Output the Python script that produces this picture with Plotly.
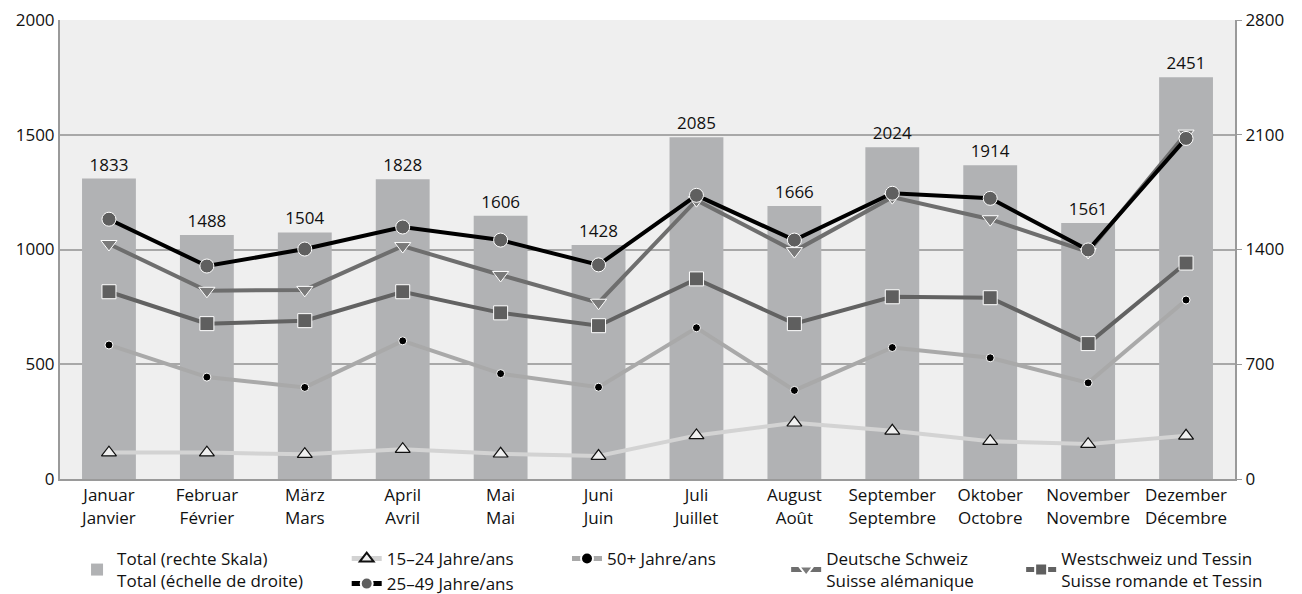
import plotly.graph_objects as go

# Data
months = ["Januar<br>Janvier", "Februar<br>Février", "März<br>Mars", "April<br>Avril",
          "Mai<br>Mai", "Juni<br>Juin", "Juli<br>Juillet", "August<br>Août",
          "September<br>Septembre", "Oktober<br>Octobre", "November<br>Novembre",
          "Dezember<br>Décembre"]
total = [1833, 1488, 1504, 1828, 1606, 1428, 2085, 1666, 2024, 1914, 1561, 2451]
age_15_24 = [115, 115, 108, 130, 110, 100, 190, 245, 210, 165, 152, 188]
age_25_49 = [1132, 928, 1002, 1098, 1041, 933, 1236, 1041, 1245, 1223, 998, 1484]
age_50 = [584, 444, 399, 602, 459, 400, 659, 386, 573, 528, 419, 780]
deutsch = [1024, 820, 824, 1015, 889, 768, 1215, 993, 1228, 1132, 989, 1505]
west = [816, 677, 690, 816, 724, 668, 872, 677, 794, 790, 590, 941]

left_ticks = [0, 500, 1000, 1500, 2000]
right_ticks = [0, 700, 1400, 2100, 2800]

FONT = "Open Sans"
FS = 17

fig = go.Figure()

# Bars on the primary axis (drawn first, behind the lines), shown on the right side
fig.add_trace(go.Bar(
    x=months, y=total,
    name="Total (rechte Skala)<br>Total (échelle de droite)",
    marker=dict(color="#b1b2b4", line=dict(width=0)),
    width=0.55,
    text=total, textposition="outside",
    textfont=dict(color="#111", size=FS),
    cliponaxis=False,
    legend="legend",
    yaxis="y",
))

# Lines on the overlaying axis (left scale)
fig.add_trace(go.Scatter(
    x=months, y=age_15_24, mode="lines+markers",
    name="15–24 Jahre/ans",
    line=dict(color="#d3d3d3", width=4),
    marker=dict(symbol="triangle-up", size=13, color="#efefef",
                line=dict(color="#111", width=1.2)),
    legend="legend2", yaxis="y2",
))
fig.add_trace(go.Scatter(
    x=months, y=age_50, mode="lines+markers",
    name="50+ Jahre/ans",
    line=dict(color="#a9a9a9", width=4),
    marker=dict(symbol="circle", size=8, color="#000",
                line=dict(color="#fff", width=1)),
    legend="legend3", yaxis="y2",
))
fig.add_trace(go.Scatter(
    x=months, y=west, mode="lines+markers",
    name="Westschweiz und Tessin<br>Suisse romande et Tessin",
    line=dict(color="#626262", width=4),
    marker=dict(symbol="square", size=14, color="#5f5f5f",
                line=dict(color="#fff", width=1)),
    legend="legend5", yaxis="y2",
))
fig.add_trace(go.Scatter(
    x=months, y=deutsch, mode="lines+markers",
    name="Deutsche Schweiz<br>Suisse alémanique",
    line=dict(color="#6e6e6e", width=4),
    marker=dict(symbol="triangle-down", size=14, color="#7a7a7a",
                line=dict(color="#fff", width=1)),
    legend="legend4", yaxis="y2",
))
fig.add_trace(go.Scatter(
    x=months, y=age_25_49, mode="lines+markers",
    name="25–49 Jahre/ans",
    line=dict(color="#000", width=4),
    marker=dict(symbol="circle", size=14, color="#5f5f5f",
                line=dict(color="#fff", width=1)),
    legend="legend2", yaxis="y2",
))

legend_common = dict(
    font=dict(family=FONT, size=FS, color="#111"),
    bgcolor="rgba(0,0,0,0)",
    orientation="v",
    yanchor="top", y=-0.135,
    xanchor="left",
    tracegroupgap=0,
    itemsizing="constant",
)

# page body has an 8px margin, so the figure starts 8px in from the window corner
fig.update_layout(
    width=1294, height=586,
    margin=dict(l=52, r=67, t=12, b=115, autoexpand=False),
    paper_bgcolor="white",
    plot_bgcolor="#efefef",
    font=dict(family=FONT, size=FS, color="#111"),
    showlegend=True,
    xaxis=dict(
        type="category",
        range=[-0.5, 11.5],
        showgrid=False,
        showline=True, linecolor="#9a9a9a", linewidth=2,
        ticks="", tickfont=dict(size=FS),
    ),
    yaxis=dict(
        side="right",
        range=[0, 2800],
        tickvals=right_ticks,
        showgrid=True, gridcolor="#a8a8a8", gridwidth=1.5,
        zeroline=False,
        showline=True, linecolor="#9a9a9a", linewidth=2,
        ticks="outside", ticklen=5, tickcolor="#9a9a9a",
        tickfont=dict(size=FS),
        ticklabeloverflow="allow",
    ),
    yaxis2=dict(
        overlaying="y", side="left",
        range=[0, 2000],
        tickvals=left_ticks,
        showgrid=False, zeroline=False,
        showline=True, linecolor="#9a9a9a", linewidth=2,
        ticks="", tickfont=dict(size=FS),
        ticklabeloverflow="allow",
    ),
    legend=dict(legend_common, x=0.0145),
    legend2=dict(legend_common, x=0.244),
    legend3=dict(legend_common, x=0.4315),
    legend4=dict(legend_common, x=0.618),
    legend5=dict(legend_common, x=0.818),
)

fig.write_html("out.html")
